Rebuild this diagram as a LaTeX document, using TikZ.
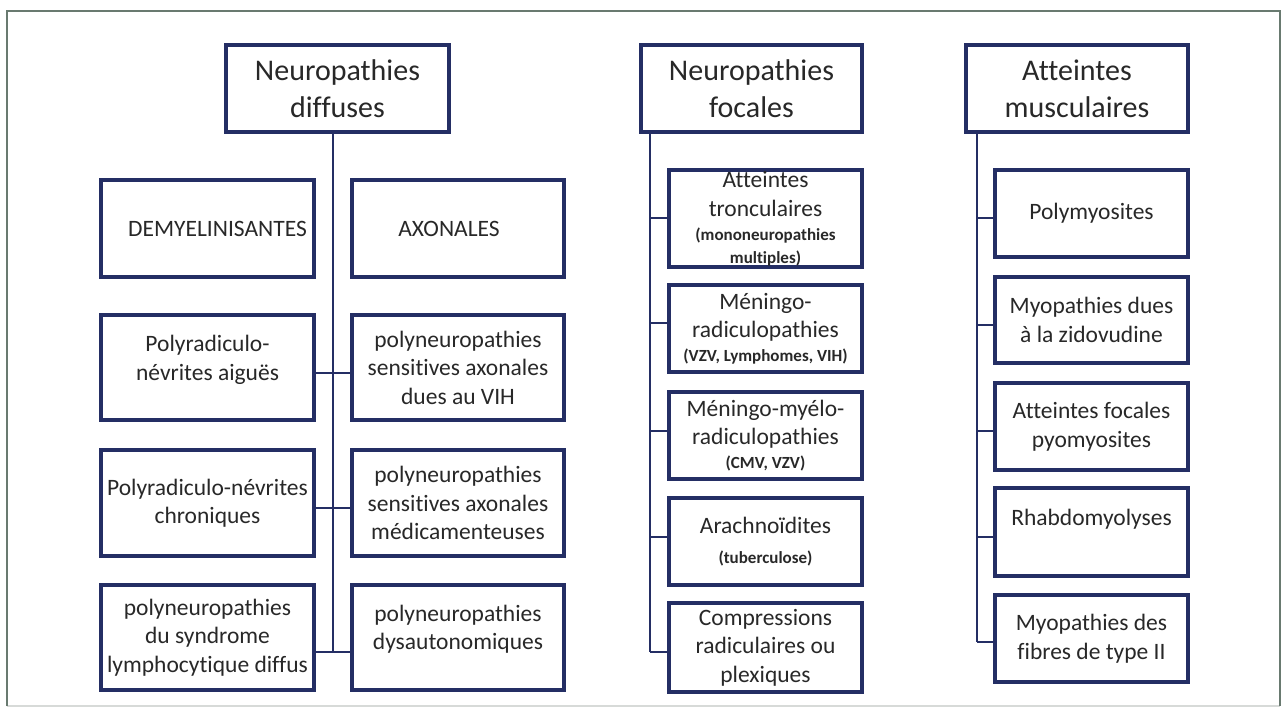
\documentclass[tikz,border=0pt]{standalone}
\usepackage{fontspec}
\setmainfont[Ligatures=NoCommon]{Carlito}
\definecolor{navy}{RGB}{36,46,100}
\definecolor{txt}{RGB}{40,40,40}
\definecolor{frameg}{RGB}{105,122,112}
\definecolor{framelight}{RGB}{215,218,216}
\newcommand{\hdrfont}{\fontsize{30}{37}\selectfont}
\newcommand{\bodyfont}{\fontsize{23.5}{28.5}\selectfont}
\newcommand{\smtxt}{\fontsize{17}{20}\selectfont\bfseries}
\tikzset{
  box/.style={draw=navy, line width=3.2pt, fill=white, align=center, text=txt, inner sep=0pt, font=\bodyfont},
  hdr/.style={box, font=\hdrfont},
  link/.style={draw=navy, line width=2.2pt},
  lbox/.style={box, minimum width=213},
  rbox/.style={box, minimum width=212},
  fbox/.style={box, minimum width=193},
}
\begin{document}
\begin{tikzpicture}[x=1pt,y=-1pt]
\useasboundingbox (0,0) rectangle (1282,715);
\fill[white] (0,0) rectangle (1282,715);
% frame
\draw[framelight, line width=2pt] (7,706) -- (1280,706);
\draw[frameg, line width=2.5pt] (7,706) -- (7,11) -- (1280,11) -- (1280,706);

% ---------- column 1 ----------
\node[hdr, minimum width=223, minimum height=87] (H1) at (337.5,88.5) {Neuropathies\\diffuses};
\coordinate (T1) at (333,652);
\draw[link] (H1.south -| T1) -- (T1);

\node[lbox, minimum height=97] (L1) at (207.5,228.5) {\hspace*{20pt}DEMYELINISANTES};
\node[rbox, minimum height=97] (R1) at (458,228.5) {AXONALES\hspace*{18pt}};

\node[lbox, minimum height=105, text depth=19pt] (L2) at (207.5,367.5) {Polyradiculo-\\névrites aiguës};
\node[rbox, minimum height=105] (R2) at (458,367.5) {polyneuropathies\\sensitives axonales\\dues au VIH};
\draw[link] (L2.east |- 0,373) -- (R2.west |- 0,373);

\node[lbox, minimum height=106] (L3) at (207.5,503) {Polyradiculo-névrites\\chroniques};
\node[rbox, minimum height=106] (R3) at (458,503) {polyneuropathies\\sensitives axonales\\médicamenteuses};
\draw[link] (L3.east |- 0,508) -- (R3.west |- 0,508);

\node[lbox, minimum height=105] (L4) at (207.5,637.5) {polyneuropathies\\du syndrome\\lymphocytique diffus};
\node[rbox, minimum height=105, text depth=20pt] (R4) at (458,637.5) {polyneuropathies\\dysautonomiques};
\draw[link] (L4.east |- 0,652) -- (R4.west |- 0,652);

% ---------- column 2 ----------
\node[hdr, minimum width=221, minimum height=87] (H2) at (751.5,88.5) {Neuropathies\\focales};
\coordinate (T2) at (650,652);
\draw[link] (H2.south -| T2) -- (T2);

\node[fbox, minimum height=97] (F1) at (765.5,218.5) {Atteintes\\tronculaires\\[-4pt]{\smtxt (mononeuropathies}\\[-6pt]{\smtxt multiples)}};
\node[fbox, minimum height=87] (F2) at (765.5,328.5) {Méningo-\\radiculopathies\\[-5pt]{\smtxt (VZV, Lymphomes, VIH)}};
\node[fbox, minimum height=87] (F3) at (765.5,435.5) {Méningo-myélo-\\radiculopathies\\[-5pt]{\smtxt (CMV, VZV)}};
\node[fbox, minimum height=87] (F4) at (765.5,541.5) {Arachnoïdites\\[2pt]{\smtxt (tuberculose)}};
\node[fbox, minimum height=89] (F5) at (765.5,647.5) {Compressions\\radiculaires ou\\plexiques};
\draw[link] (650,218) -- (F1.west |- 0,218);
\draw[link] (650,323) -- (F2.west |- 0,323);
\draw[link] (650,431) -- (F3.west |- 0,431);
\draw[link] (650,537) -- (F4.west |- 0,537);
\draw[link] (T2) -- (F5.west |- T2);

% ---------- column 3 ----------
\node[hdr, minimum width=222, minimum height=87] (H3) at (1077,88.5) {Atteintes\\musculaires};
\coordinate (T3) at (977,642);
\draw[link] (H3.south -| T3) -- (T3);

\node[fbox, minimum height=87] (M1) at (1091.5,213.5) {Polymyosites};
\node[fbox, minimum height=86] (M2) at (1091.5,320) {Myopathies dues\\à la zidovudine};
\node[fbox, minimum height=87] (M3) at (1091.5,426.5) {Atteintes focales\\pyomyosites};
\node[fbox, minimum height=88, text depth=29pt] (M4) at (1091.5,532) {Rhabdomyolyses};
\node[fbox, minimum height=87] (M5) at (1091.5,638.5) {Myopathies des\\fibres de type II};
\draw[link] (977,218) -- (M1.west |- 0,218);
\draw[link] (977,325) -- (M2.west |- 0,325);
\draw[link] (977,431) -- (M3.west |- 0,431);
\draw[link] (977,537) -- (M4.west |- 0,537);
\draw[link] (T3) -- (M5.west |- T3);
\end{tikzpicture}
\end{document}
